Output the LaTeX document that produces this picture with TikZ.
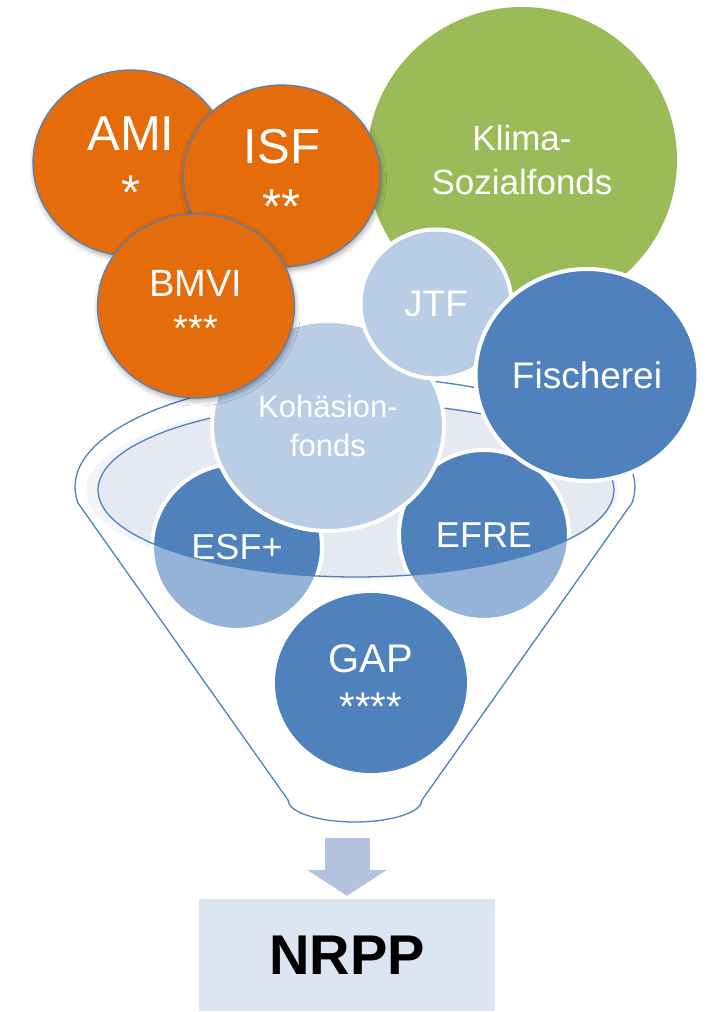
\documentclass[tikz,border=0pt]{standalone}
\usepackage{fontspec}
\setmainfont{Liberation Sans}
\usepackage{xcolor}
\usetikzlibrary{positioning,shapes.geometric,arrows.meta,shadows.blur}

\definecolor{fundorange}{HTML}{E46C0A}
\definecolor{fundblue}{HTML}{4F81BD}
\definecolor{fundlight}{HTML}{B9CDE5}
\definecolor{fundgreen}{HTML}{9BBB59}
\definecolor{rimpale}{HTML}{E4E9F2}
\definecolor{flowblue}{HTML}{B3C3DF}
\definecolor{boxpale}{HTML}{DCE6F2}

\newcommand{\fsize}[2]{\fontsize{#1}{#2}\selectfont}

\begin{document}
\begin{tikzpicture}[x=1pt,y=1pt,
  fund/.style={ellipse,inner sep=0pt,align=center,text=white},
  orangefund/.style={fund,fill=fundorange,draw=fundblue,line width=1.2pt,
    blur shadow={shadow xshift=1pt,shadow yshift=-3pt,shadow blur radius=5pt,shadow opacity=35}},
  bluefund/.style={fund,fill=fundblue,draw=white,line width=4pt},
  lightfund/.style={fund,fill=fundlight,draw=white,line width=4pt},
  rim/.style={draw=fundblue,line width=1.3pt},
  flow/.style={line width=45pt,draw=flowblue,
    -{Triangle[width=80pt,length=26pt,line width=0pt]}}]
\useasboundingbox (0,0) rectangle (710,1012);

% big fund at the back
\node[fund,fill=fundgreen,minimum width=310pt,minimum height=306pt,
  font=\fsize{35}{44}] (klima) at (522,852) {Klima-\\Sozialfonds};

% opening of the funnel (with a soft edge on the left)
\fill[rimpale,opacity=.7] (352,522) ellipse[x radius=266,y radius=89];
\fill[rimpale] (356,522) ellipse[x radius=258,y radius=87];

\node[bluefund,minimum width=170pt,minimum height=166pt,font=\fsize{36}{43}] (esf) at (237,465) {ESF+};
\node[bluefund,minimum width=170pt,minimum height=170pt,font=\fsize{36}{43}] (efre) at (484,477) {EFRE};

% funnel body, opening left out
\path[fill=white,fill opacity=.4,even odd rule]
  (78,509) arc[start angle=188.4,end angle=-8.4,x radius=280,y radius=110]
  -- (422,212) arc[start angle=0,end angle=-180,x radius=67,y radius=22] -- cycle
  (356,522) ellipse[x radius=258,y radius=87];
\draw[rim] (78,509) arc[start angle=188.4,end angle=-8.4,x radius=280,y radius=110]
  -- (422,212) arc[start angle=0,end angle=-180,x radius=67,y radius=22] -- cycle;
\draw[rim] (356,522) ellipse[x radius=258,y radius=87];

\node[fund,fill=fundblue,minimum width=192pt,minimum height=180pt,font=\fsize{40}{48}] (gap) at (371,329) {GAP\\{****}};
\node[lightfund,minimum width=232pt,minimum height=210pt,font=\fsize{31}{39}] (kohaesion) at (328,586) {Kohäsion-\\fonds};
\node[lightfund,minimum width=151pt,minimum height=149pt,font=\fsize{37}{44}] (jtf) at (436,708) {JTF};
\node[bluefund,minimum width=223pt,minimum height=212pt,font=\fsize{37}{44}] (fisch) at (587,637) {Fischerei};

% orange funds on top
\node[orangefund,minimum width=196pt,minimum height=186pt,font=\fsize{49}{59}] (ami) at (131,849) {AMI\\{*}};
\node[orangefund,minimum width=197pt,minimum height=182pt,font=\fsize{49}{60}] (isf) at (282,836) {ISF\\{**}};
\node[orangefund,minimum width=197pt,minimum height=184pt,font=\fsize{38}{45}] (bmvi) at (196,706) {BMVI\\{***}};

% outlet
\node[fill=boxpale,minimum width=296pt,minimum height=112pt,
  font=\fsize{56}{60}\bfseries] (nrpp) at (347,57) {NRPP};
\coordinate (spout) at (347,190);
\draw[flow,shorten <=16pt,shorten >=3pt] (spout) -- (nrpp);
\end{tikzpicture}
\end{document}
